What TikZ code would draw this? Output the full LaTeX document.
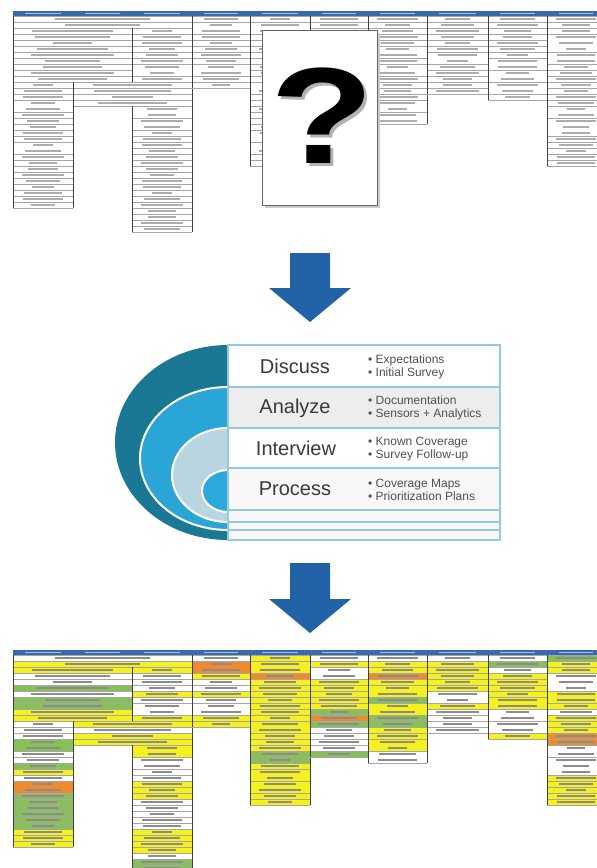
\documentclass[tikz,border=0pt]{standalone}
\usepackage{fontspec}
\setmainfont{Liberation Sans}

\definecolor{hdrblue}{HTML}{3A6AAE}
\definecolor{hdrtext}{HTML}{A7C1E2}
\definecolor{fillY}{HTML}{F4F11F}
\definecolor{fillG}{HTML}{86C057}
\definecolor{fillO}{HTML}{EE8A30}
\definecolor{arrowblue}{HTML}{2262A6}
\definecolor{ringdark}{HTML}{1B7894}
\definecolor{ringmid}{HTML}{2AA5D5}
\definecolor{ringpale}{HTML}{B9D5E1}
\definecolor{ringcore}{HTML}{2CA9DA}
\definecolor{tableline}{HTML}{93CADD}
\definecolor{labelgrey}{HTML}{3A3A3A}
\definecolor{notegrey}{HTML}{505050}

\tikzset{
  rowrule/.style={draw=black!35, line width=0.4pt},
  colrule/.style={draw=black!75, line width=0.5pt},
  textbar/.style={draw=cT, line width=1.1pt},
  stage/.style={font=\fontsize{20}{20}\selectfont, text=labelgrey, inner sep=0pt},
  notes/.style={anchor=west, align=left, font=\fontsize{12}{13}\selectfont, text=notegrey, inner sep=0pt},
  rowbox/.style={draw=tableline, line width=1.3pt},
  ringedge/.style={draw=white, line width=2pt},
}

% one cell of the coverage matrix: left x, right x, first row, rows, fill
\newcommand\mcell[5]{%
  \pgfmathsetmacro\ctop{\mY+5+6*#3}%
  \pgfmathsetmacro\cbot{\ctop+6*#4}%
  \fill[fill=#5] (#1,\ctop) rectangle (#2,\cbot);
  \draw[rowrule] (#1,\ctop) -- (#2,\ctop) (#1,\cbot) -- (#2,\cbot);
  \draw[colrule] (#1,\ctop) -- (#1,\cbot) (#2,\ctop) -- (#2,\cbot);
  \foreach \k in {1,...,#4}{%
    \pgfmathsetmacro\bw{(#2-#1)*(0.3+0.4*abs(sin(7*#1+53*(#3+\k))))}%
    \pgfmathsetmacro\by{\ctop+6*\k-3}%
    \draw[textbar] ({(#1+#2)/2-\bw/2},\by) -- ({(#1+#2)/2+\bw/2},\by);
  }%
}

% header band with the tactic names
\newcommand\mhead{%
  \fill[hdrblue] (13,\mY) rectangle (605,\mY+5);
  \foreach \a/\b in {13/73,73/132,132/192,192/250,250/310,310/368,368/427,427/488,488/547,547/605}{%
    \draw[hdrtext, line width=1.2pt] (\a+12,\mY+2.5) -- (\b-12,\mY+2.5);
  }%
}

% the whole technique matrix
\newcommand\matrixbody{%
  \mhead
  % columns 1-3 with merged rows
  \foreach \r/\c in {0/cW,1/cY}{\mcell{13}{192}{\r}{1}{\c}}
  \foreach \r/\n/\c in {2/1/cY,3/1/cW,4/1/cW,5/1/cG,6/1/cW,7/1/cG,8/1/cG,9/1/cY,10/1/cY}{\mcell{13}{132}{\r}{\n}{\c}}
  \foreach \r/\n/\c in {2/1/cY,3/1/cW,4/1/cW,5/1/cW,6/1/cY,7/1/cW,8/2/cW,10/1/cY}{\mcell{132}{192}{\r}{\n}{\c}}
  \foreach \r/\n/\c in {11/1/cY,12/1/cW,13/1/cY,14/1/cY}{\mcell{73}{192}{\r}{\n}{\c}}
  \foreach \r/\n/\c in {11/1/cW,12/1/cW,13/1/cW,14/2/cG,16/1/cW,17/1/cW,18/1/cG,19/1/cY,20/1/cW,21/2/cO,23/1/cG,24/1/cG,25/1/cG,26/1/cG,27/1/cG,28/1/cG,29/1/cY,30/1/cY,31/1/cY}{\mcell{13}{73}{\r}{\n}{\c}}
  \foreach \r/\n/\c in {15/2/cY,17/2/cW,19/1/cW,20/1/cW,21/1/cY,22/1/cY,23/1/cY,24/1/cW,25/1/cW,26/1/cW,27/1/cW,28/1/cW,29/1/cY,30/1/cY,31/1/cY,32/1/cY,33/1/cW,34/1/cG,35/1/cG}{\mcell{132}{192}{\r}{\n}{\c}}
  % column 4
  \foreach \r/\n/\c in {0/1/cW,1/2/cO,3/1/cY,4/1/cW,5/1/cW,6/1/cY,7/1/cW,8/2/cW,10/1/cY,11/1/cY}{\mcell{192}{250}{\r}{\n}{\c}}
  % column 5
  \foreach \r/\n/\c in {0/1/cY,1/2/cY,3/1/cO,4/1/cY,5/1/cY,6/1/cY,7/1/cY,8/1/cY,9/1/cY,10/1/cY,11/2/cY,13/1/cY,14/1/cY,15/1/cY,16/1/cG,17/1/cG,18/1/cY,19/2/cY,21/2/cY,23/1/cY,24/1/cY}{\mcell{250}{310}{\r}{\n}{\c}}
  % column 6
  \foreach \r/\n/\c in {0/1/cW,1/1/cY,2/2/cW,4/1/cY,5/1/cY,6/1/cY,7/1/cY,8/1/cY,9/1/cG,10/1/cO,11/1/cG,12/1/cW,13/1/cW,14/1/cW,15/1/cW,16/1/cG}{\mcell{310}{368}{\r}{\n}{\c}}
  % column 7
  \foreach \r/\n/\c in {0/1/cW,1/1/cY,2/1/cY,3/1/cO,4/1/cY,5/2/cY,7/1/cG,8/2/cY,10/1/cG,11/1/cG,12/1/cY,13/1/cY,14/2/cY,16/2/cW}{\mcell{368}{427}{\r}{\n}{\c}}
  % column 8
  \foreach \r/\n/\c in {0/1/cW,1/1/cY,2/1/cY,3/1/cY,4/1/cY,5/1/cY,6/2/cW,8/1/cY,9/1/cW,10/1/cW,11/1/cW,12/1/cW}{\mcell{427}{488}{\r}{\n}{\c}}
  % column 9
  \foreach \r/\n/\c in {0/1/cW,1/1/cG,2/1/cW,3/1/cY,4/1/cY,5/1/cY,6/1/cY,7/2/cY,9/2/cW,11/2/cW,13/1/cY}{\mcell{488}{547}{\r}{\n}{\c}}
  % column 10
  \foreach \r/\n/\c in {0/1/cG,1/1/cY,2/1/cY,3/3/cW,6/2/cY,8/1/cY,9/1/cW,10/1/cY,11/1/cY,12/1/cY,13/1/cO,14/1/cO,15/2/cW,17/3/cW,20/1/cY,21/1/cY,22/1/cY,23/1/cY,24/1/cY}{\mcell{547}{605}{\r}{\n}{\c}}
}

% question mark glyph
\newcommand\qglyph{\scalebox{1.24}[1]{?}}

\begin{document}
\begin{tikzpicture}[x=1pt, y=1pt, yscale=-1]
  \useasboundingbox (0,0) rectangle (597,868);
  \fill[white] (0,0) rectangle (597,868);
  \clip (0,0) rectangle (597,868);

  % ---- matrix before the assessment (no colour) ----
  \begin{scope}
    \colorlet{cW}{white}\colorlet{cY}{white}\colorlet{cG}{white}\colorlet{cO}{white}
    \colorlet{cT}{black!32}
    \def\mY{11}
    \matrixbody
  \end{scope}

  % unknown-coverage card
  \fill[black!20] (265,33) rectangle (380,208);
  \filldraw[fill=white, draw=black!60, line width=1pt] (262,30) rectangle (377,205);
  \node[text=black, font=\fontsize{137}{137}\selectfont\bfseries] (qmark) at (322,117)
    {\makebox[0pt][l]{\hspace{3.5pt}\raisebox{-3.5pt}{\textcolor{black!30}{\qglyph}}}\qglyph};

  % ---- first arrow ----
  \fill[arrowblue] (290,253) -- (330,253) -- (330,288) -- (351,288) -- (310,322) -- (269,288) -- (290,288) -- cycle;

  % ---- assessment process: nested half rings ----
  \fill[ringdark] (228,345) arc[start angle=270, end angle=90, x radius=113pt, y radius=97.5pt] -- cycle;
  \fill[ringmid] (228,387) arc[start angle=270, end angle=90, x radius=88pt, y radius=71.5pt] -- cycle;
  \draw[ringedge] (228,387) arc[start angle=270, end angle=90, x radius=88pt, y radius=71.5pt];
  \fill[ringpale] (228,428) arc[start angle=270, end angle=90, x radius=56pt, y radius=47pt] -- cycle;
  \draw[ringedge] (228,428) arc[start angle=270, end angle=90, x radius=56pt, y radius=47pt];
  \fill[ringcore] (228,470) arc[start angle=270, end angle=90, x radius=26pt, y radius=21pt] -- cycle;
  \draw[ringedge] (228,470) arc[start angle=270, end angle=90, x radius=26pt, y radius=21pt];

  % step table
  \filldraw[rowbox, fill=white]   (228,345) rectangle (500,387);
  \filldraw[rowbox, fill=black!7] (228,387) rectangle (500,428);
  \filldraw[rowbox, fill=white]   (228,428) rectangle (500,468);
  \filldraw[rowbox, fill=black!3] (228,468) rectangle (500,510);
  \filldraw[rowbox, fill=black!3] (228,510) rectangle (500,522);
  \filldraw[rowbox, fill=black!3] (228,522) rectangle (500,530);
  \filldraw[rowbox, fill=black!3] (228,530) rectangle (500,540);

  \node[stage] (discuss)   at (295,366) {Discuss};
  \node[stage] (analyze)   at (295,408) {Analyze};
  \node[stage] (interview) at (296,448) {Interview};
  \node[stage] (process)   at (295,489) {Process};

  \node[notes] (discussnotes)   at (368,367) {\textbullet\ Expectations\\\textbullet\ Initial Survey};
  \node[notes] (analyzenotes)   at (368,407.5) {\textbullet\ Documentation\\\textbullet\ Sensors + Analytics};
  \node[notes] (interviewnotes) at (368,449) {\textbullet\ Known Coverage\\\textbullet\ Survey Follow-up};
  \node[notes] (processnotes)   at (368,490) {\textbullet\ Coverage Maps\\\textbullet\ Prioritization Plans};

  % ---- second arrow ----
  \fill[arrowblue] (290,563) -- (330,563) -- (330,599) -- (351,599) -- (310,633) -- (269,599) -- (290,599) -- cycle;

  % ---- matrix after the assessment (coloured coverage) ----
  \begin{scope}
    \colorlet{cW}{white}\colorlet{cY}{fillY}\colorlet{cG}{fillG}\colorlet{cO}{fillO}
    \colorlet{cT}{black!45}
    \def\mY{650}
    \matrixbody
  \end{scope}
\end{tikzpicture}
\end{document}
